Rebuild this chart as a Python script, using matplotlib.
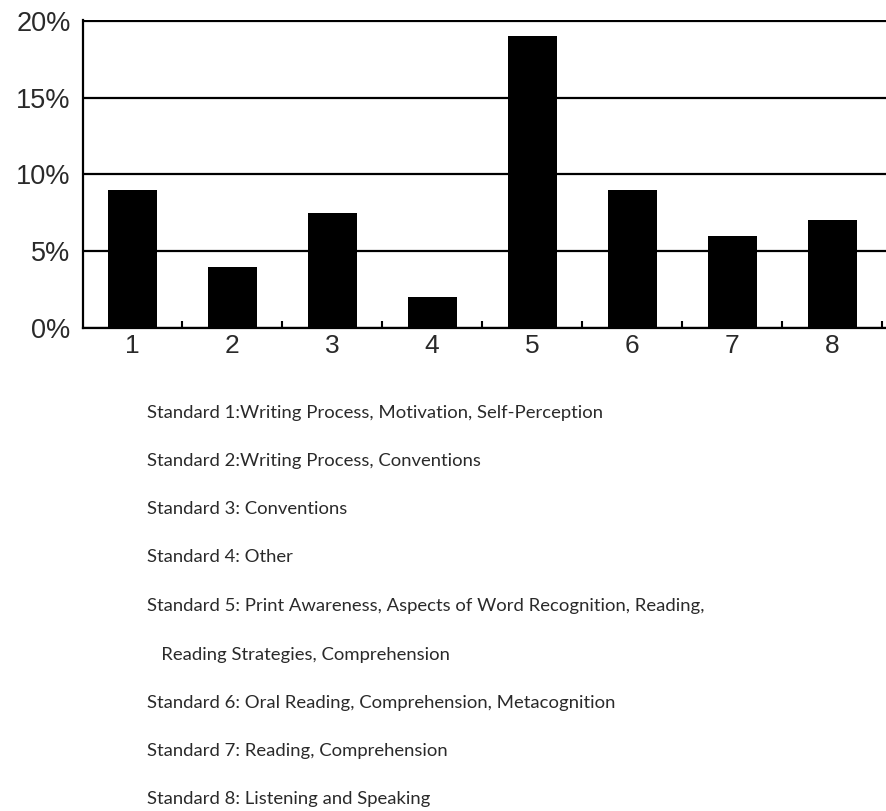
import matplotlib
matplotlib.use("Agg")
import matplotlib.pyplot as plt
from matplotlib.ticker import FixedLocator

categories = ["1", "2", "3", "4", "5", "6", "7", "8"]
values = [9.0, 4.0, 7.5, 2.0, 19.0, 9.0, 6.0, 7.0]
ytick_values = [0, 5, 10, 15, 20]
ytick_labels = ["0%", "5%", "10%", "15%", "20%"]
legend_lines = [
    "Standard 1:Writing Process, Motivation, Self-Perception",
    "Standard 2:Writing Process, Conventions",
    "Standard 3: Conventions",
    "Standard 4: Other",
    "Standard 5: Print Awareness, Aspects of Word Recognition, Reading,",
    "   Reading Strategies, Comprehension",
    "Standard 6: Oral Reading, Comprehension, Metacognition",
    "Standard 7: Reading, Comprehension",
    "Standard 8: Listening and Speaking",
]

W, H = 886, 811
fig = plt.figure(figsize=(W / 100, H / 100), dpi=100)
ax = fig.add_axes([83 / W, 1 - 328 / H, 1 - 83 / W, (328 - 20) / H])

x = list(range(1, len(categories) + 1))
ax.bar(x, values, width=0.49, color="black", zorder=3)

ax.set_xlim(0.51, 8.54)
ax.set_ylim(0, 20.05)
ax.set_xticks(x)
ax.set_xticklabels(categories, fontsize=19, family="Liberation Sans", color="#2a2a2a")
ax.xaxis.set_minor_locator(FixedLocator([i + 0.5 for i in x]))
ax.tick_params(axis="x", which="major", length=0, pad=4)
ax.tick_params(axis="x", which="minor", direction="in", length=5, width=1.5, color="black")

ax.set_yticks(ytick_values)
ax.set_yticklabels(ytick_labels, fontsize=19.5, family="Liberation Sans", color="#2a2a2a")
ax.tick_params(axis="y", length=0, pad=9)

ax.set_axisbelow(True)
ax.yaxis.grid(True, color="black", linewidth=1.6)
ax.xaxis.grid(False)

for s in ["top", "right"]:
    ax.spines[s].set_visible(False)
for s in ["left", "bottom"]:
    ax.spines[s].set_linewidth(1.6)
    ax.spines[s].set_color("black")

ys = [413, 461, 509, 557, 606, 655, 703, 751, 799]
for line, yp in zip(legend_lines, ys):
    fig.text(147 / W, 1 - yp / H, line, fontsize=13.3, family="Lato",
             color="#2a2a2a", va="center", ha="left")

fig.savefig("out.png", dpi=100, facecolor="white")
